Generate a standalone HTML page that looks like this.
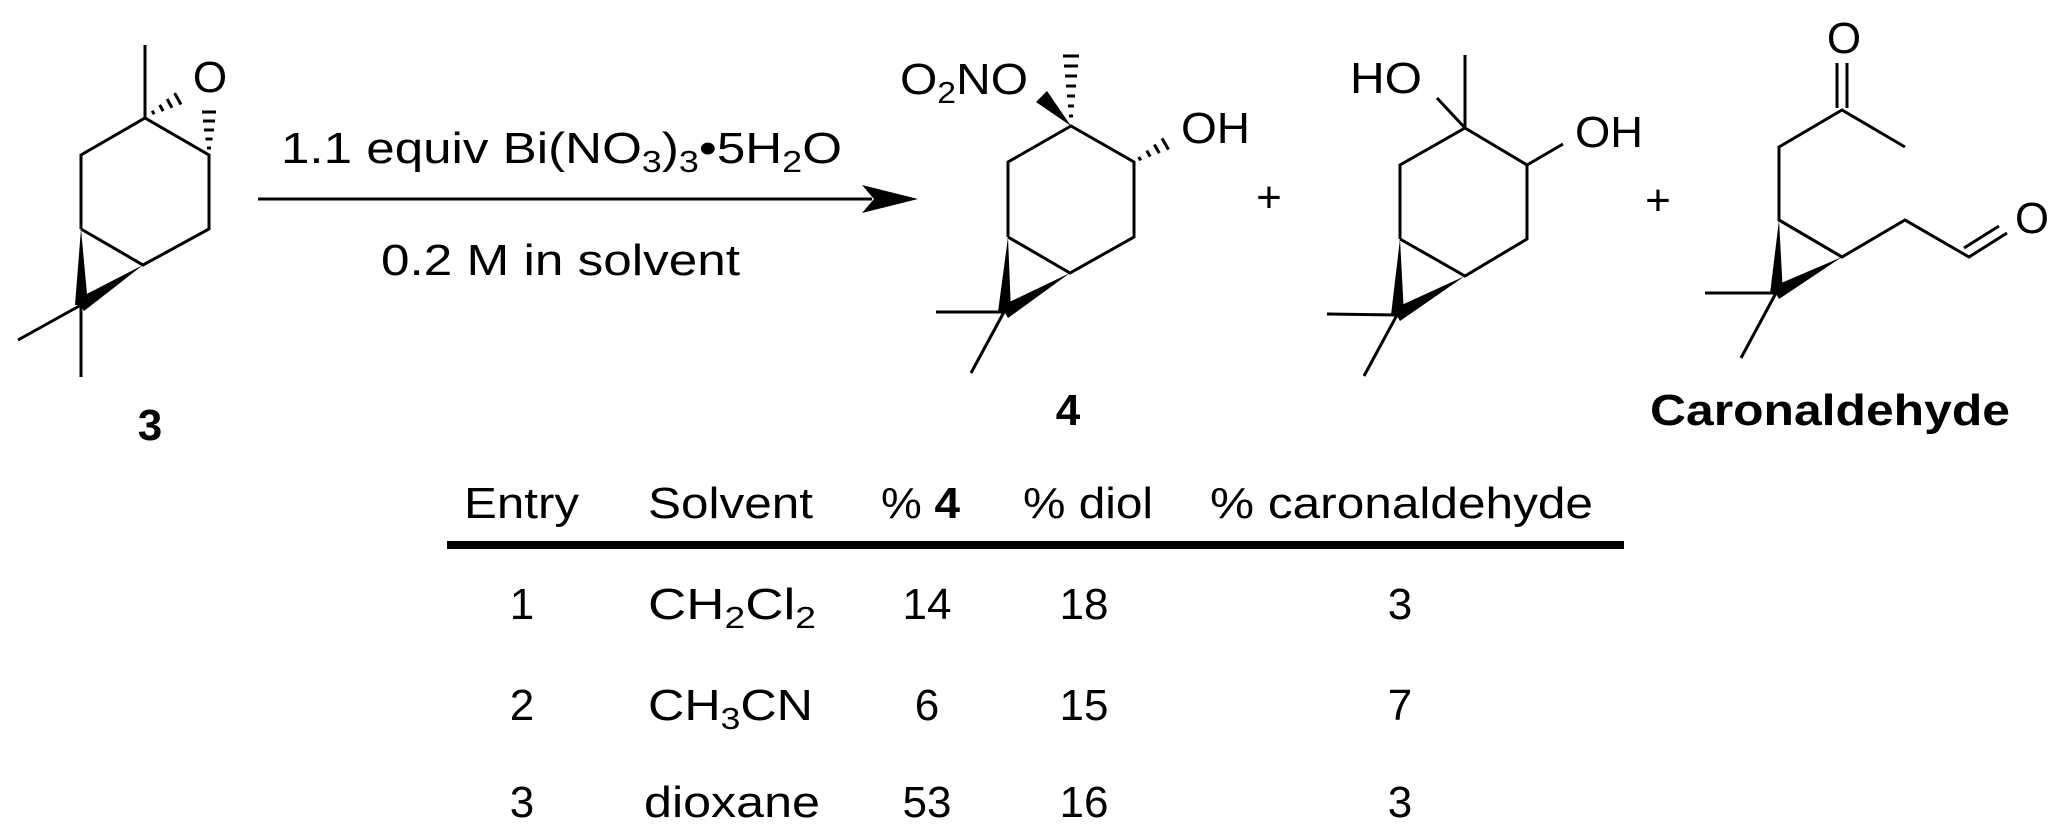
<!DOCTYPE html>
<html><head><meta charset="utf-8"><style>
html,body{margin:0;padding:0;background:#fff;}
svg{display:block;}
text{font-family:"Liberation Sans",Arial,sans-serif;fill:#000;}
</style></head><body>
<svg width="2067" height="840" viewBox="0 0 2067 840" xmlns="http://www.w3.org/2000/svg">
<g stroke="#000" stroke-width="3" fill="none" stroke-linecap="butt" stroke-linejoin="miter">
<!-- compound 3 -->
<polyline points="81,229 81,155 145,118 209,155 209,229 143,265 81,229"/>
<line x1="145" y1="118" x2="145" y2="45"/>
<line x1="81" y1="305" x2="18" y2="340"/>
<line x1="81" y1="305" x2="81" y2="377"/>
<!-- hashes -->
<line x1="152.2" y1="110.8" x2="154.2" y2="114.2"/>
<line x1="159.7" y1="104.9" x2="163.1" y2="111.1"/>
<line x1="167.1" y1="99.0" x2="172.0" y2="107.8"/>
<line x1="174.6" y1="93.1" x2="181.0" y2="104.5"/>
<line x1="207" y1="148" x2="211" y2="148"/>
<line x1="205.5" y1="139" x2="212.5" y2="139"/>
<line x1="204" y1="130" x2="214" y2="130"/>
<line x1="203" y1="121" x2="215" y2="121"/>
<line x1="202" y1="112" x2="216" y2="112"/>
<!-- arrow -->
<line x1="258" y1="199" x2="872" y2="199"/>
<!-- compound 4 -->
<polyline points="1008,237 1008,162 1071,126 1134,162 1134,237 1070,273 1008,237"/>
<line x1="1004" y1="312" x2="936" y2="312"/>
<line x1="1004" y1="312" x2="971" y2="373"/>
<line x1="1069" y1="116" x2="1073" y2="116"/>
<line x1="1068" y1="106" x2="1074" y2="106"/>
<line x1="1067" y1="96" x2="1075" y2="96"/>
<line x1="1066" y1="86" x2="1076" y2="86"/>
<line x1="1065" y1="76" x2="1077" y2="76"/>
<line x1="1064" y1="66" x2="1078" y2="66"/>
<line x1="1063" y1="56" x2="1079" y2="56"/>
<line x1="1138.7" y1="157" x2="1140.7" y2="160.4"/>
<line x1="1146.7" y1="150.6" x2="1150.2" y2="156.6"/>
<line x1="1154.3" y1="144.5" x2="1159.3" y2="153.1"/>
<line x1="1162" y1="138.4" x2="1168.5" y2="149.6"/>
<!-- diol -->
<polyline points="1400,239 1400,165 1465,128 1527,165 1527,239 1465,276 1400,239"/>
<line x1="1465" y1="128" x2="1465" y2="55"/>
<line x1="1465" y1="128" x2="1437" y2="98"/>
<line x1="1527" y1="165" x2="1563" y2="144"/>
<line x1="1397" y1="315" x2="1327" y2="314"/>
<line x1="1397" y1="315" x2="1364" y2="376"/>
<!-- caronaldehyde -->
<polyline points="1905,147 1842,110 1779,147 1779,220 1842,257 1905,220 1969,257 2007,233"/>
<line x1="1779" y1="220" x2="1842" y2="257"/>
<line x1="1837" y1="108" x2="1837" y2="63"/>
<line x1="1847" y1="108" x2="1847" y2="63"/>
<line x1="1964" y1="248" x2="1999" y2="226"/>
<line x1="1776" y1="293" x2="1705" y2="293"/>
<line x1="1776" y1="293" x2="1741" y2="358"/>
<!-- table rule -->
<line x1="447" y1="545" x2="1624" y2="545" stroke-width="8"/>
</g>
<g fill="#000" stroke="none">
<polygon points="81,229 75,305 88,305"/>
<polygon points="143,265 84,311 77,299"/>
<polygon points="918,199 862,185 874,199 862,213"/>
<polygon points="1071,126 1047,91 1036,102"/>
<polygon points="1008,237 998,312 1011,312"/>
<polygon points="1070,273 1008,318 1001,306"/>
<polygon points="1400,239 1391,315 1404,315"/>
<polygon points="1465,276 1400,321 1393,309"/>
<polygon points="1779,220 1770,294 1783,294"/>
<polygon points="1842,257 1779,299 1772,287"/>
</g>
<g font-size="44">
<text x="210" y="92" text-anchor="middle">O</text>
<text x="281" y="163" textLength="561" lengthAdjust="spacingAndGlyphs">1.1 equiv Bi(NO<tspan font-size="31" dy="9">3</tspan><tspan dy="-9">)</tspan><tspan font-size="31" dy="9">3</tspan><tspan dy="-9">•5H</tspan><tspan font-size="31" dy="9">2</tspan><tspan dy="-9">O</tspan></text>
<text x="381" y="275" textLength="359" lengthAdjust="spacingAndGlyphs">0.2 M in solvent</text>
<text x="150" y="440" text-anchor="middle" font-weight="bold">3</text>
<text x="900" y="94" textLength="128" lengthAdjust="spacingAndGlyphs">O<tspan font-size="31" dy="9">2</tspan><tspan dy="-9">NO</tspan></text>
<text x="1181" y="143" textLength="69" lengthAdjust="spacingAndGlyphs">OH</text>
<text x="1068" y="425" text-anchor="middle" font-weight="bold">4</text>
<text x="1269" y="212" text-anchor="middle">+</text>
<text x="1350" y="93" textLength="72" lengthAdjust="spacingAndGlyphs">HO</text>
<text x="1575" y="147" textLength="68" lengthAdjust="spacingAndGlyphs">OH</text>
<text x="1658" y="215" text-anchor="middle">+</text>
<text x="1844" y="53" text-anchor="middle">O</text>
<text x="2015" y="233" textLength="34" lengthAdjust="spacingAndGlyphs">O</text>
<text x="1650" y="425" font-weight="bold" textLength="360" lengthAdjust="spacingAndGlyphs">Caronaldehyde</text>
<!-- table -->
<text x="464" y="518" textLength="115" lengthAdjust="spacingAndGlyphs">Entry</text>
<text x="648" y="518" textLength="165" lengthAdjust="spacingAndGlyphs">Solvent</text>
<text x="881" y="518" textLength="79" lengthAdjust="spacingAndGlyphs">%<tspan font-weight="bold"> 4</tspan></text>
<text x="1023" y="518" textLength="130" lengthAdjust="spacingAndGlyphs">% diol</text>
<text x="1210" y="518" textLength="383" lengthAdjust="spacingAndGlyphs">% caronaldehyde</text>
<text x="522" y="619" text-anchor="middle">1</text>
<text x="648" y="619" textLength="168" lengthAdjust="spacingAndGlyphs">CH<tspan font-size="31" dy="9">2</tspan><tspan dy="-9">Cl</tspan><tspan font-size="31" dy="9">2</tspan></text>
<text x="927" y="619" text-anchor="middle">14</text>
<text x="1084" y="619" text-anchor="middle">18</text>
<text x="1400" y="619" text-anchor="middle">3</text>
<text x="522" y="720" text-anchor="middle">2</text>
<text x="648" y="720" textLength="165" lengthAdjust="spacingAndGlyphs">CH<tspan font-size="31" dy="9">3</tspan><tspan dy="-9">CN</tspan></text>
<text x="927" y="720" text-anchor="middle">6</text>
<text x="1084" y="720" text-anchor="middle">15</text>
<text x="1400" y="720" text-anchor="middle">7</text>
<text x="522" y="817" text-anchor="middle">3</text>
<text x="644" y="817" textLength="176" lengthAdjust="spacingAndGlyphs">dioxane</text>
<text x="927" y="817" text-anchor="middle">53</text>
<text x="1084" y="817" text-anchor="middle">16</text>
<text x="1400" y="817" text-anchor="middle">3</text>
</g>
</svg>
</body></html>
